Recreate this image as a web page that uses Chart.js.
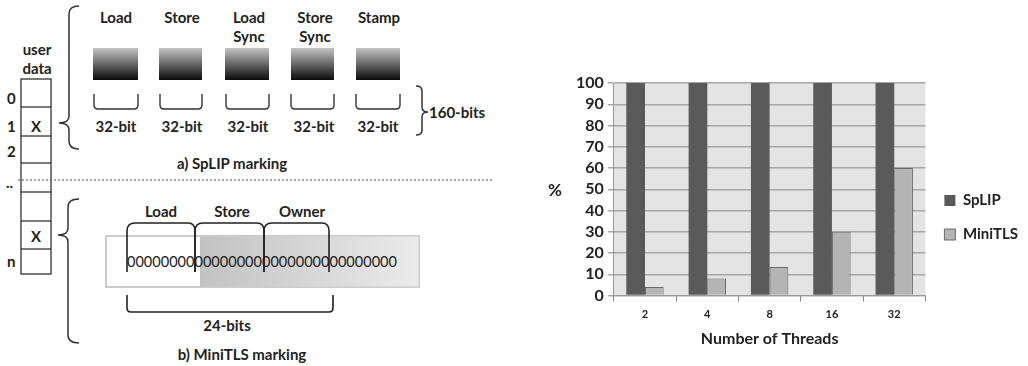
<!DOCTYPE html>
<html>
<head>
<meta charset="utf-8">
<script src="https://cdn.jsdelivr.net/npm/chart.js@4.4.0/dist/chart.umd.min.js"></script>
<style>
    body { margin: 0; background: #fff; width: 1028px; height: 366px; overflow: hidden; position: relative; font-family: Lato, "Open Sans", sans-serif; }
    #diagrama { position: absolute; left: 0; top: 0; }
    #grafico-box { position: absolute; left: 530px; top: 0; width: 498px; height: 366px; }
</style>
</head>
<body>

<!-- diagrama da esquerda (marcacoes) -->
<svg id="diagrama" width="520" height="366" font-family="Lato, sans-serif" font-weight="bold" font-size="15" fill="#222">
    <defs>
        <linearGradient id="gradCaixa" x1="0" y1="0" x2="0" y2="1">
            <stop offset="0" stop-color="#c4c4c4"/>
            <stop offset="1" stop-color="#0a0a0a"/>
        </linearGradient>
        <linearGradient id="gradFaixa" x1="0" y1="0" x2="1" y2="0">
            <stop offset="0" stop-color="#c2c2c2"/>
            <stop offset="1" stop-color="#ebebeb"/>
        </linearGradient>
    </defs>

    <!-- coluna user data -->
    <text x="37" y="55" text-anchor="middle">user</text>
    <text x="37" y="74" text-anchor="middle">data</text>
    <g stroke="#333" stroke-width="1.3" fill="none">
        <rect x="21" y="79" width="30" height="195"/>
        <line x1="21" y1="107" x2="51" y2="107"/>
        <line x1="21" y1="136" x2="51" y2="136"/>
        <line x1="21" y1="163" x2="51" y2="163"/>
        <line x1="21" y1="192" x2="51" y2="192"/>
        <line x1="21" y1="221" x2="51" y2="221"/>
        <line x1="21" y1="249" x2="51" y2="249"/>
    </g>
    <text x="7" y="104">0</text>
    <text x="7" y="132">1</text>
    <text x="7" y="157">2</text>
    <text x="6" y="188">..</text>
    <text x="7" y="267">n</text>
    <text x="36" y="132" text-anchor="middle">X</text>
    <text x="36" y="242" text-anchor="middle">X</text>

    <!-- linha tracejada -->
    <line x1="18" y1="180" x2="492" y2="180" stroke="#555" stroke-width="1" stroke-dasharray="2,2"/>

    <!-- a) SpLIP -->
    <g stroke="#333" stroke-width="1.5" fill="none">
        <path d="M79 6 Q69 6 69 14 L69 116 Q69 123 59 123 Q69 123 69 130 L69 141 Q69 149 79 149"/>
        <path d="M416 86 Q422 86 422 91 L422 107 Q422 112 428 112 Q422 112 422 117 L422 130 Q422 135 416 135"/>
    </g>
    <g text-anchor="middle">
        <text x="116" y="23">Load</text>
        <text x="182" y="23">Store</text>
        <text x="249" y="23">Load</text>
        <text x="249" y="42">Sync</text>
        <text x="315" y="23">Store</text>
        <text x="315" y="42">Sync</text>
        <text x="379" y="23">Stamp</text>
    </g>
    <g fill="url(#gradCaixa)">
        <rect x="93" y="48" width="45" height="32"/>
        <rect x="159" y="48" width="43" height="32"/>
        <rect x="225" y="48" width="44" height="32"/>
        <rect x="291" y="48" width="43" height="32"/>
        <rect x="356" y="48" width="44" height="32"/>
    </g>
    <g stroke="#333" stroke-width="1.4" fill="none">
        <path d="M94 94 L94 105 Q94 109 98 109 L134 109 Q138 109 138 105 L138 94"/>
        <path d="M160 94 L160 105 Q160 109 164 109 L198 109 Q202 109 202 105 L202 94"/>
        <path d="M226 94 L226 105 Q226 109 230 109 L265 109 Q269 109 269 105 L269 94"/>
        <path d="M291 94 L291 105 Q291 109 295 109 L330 109 Q334 109 334 105 L334 94"/>
        <path d="M356 94 L356 105 Q356 109 360 109 L396 109 Q400 109 400 105 L400 94"/>
    </g>
    <g text-anchor="middle">
        <text x="116" y="132">32-bit</text>
        <text x="182" y="132">32-bit</text>
        <text x="248" y="132">32-bit</text>
        <text x="314" y="132">32-bit</text>
        <text x="378" y="132">32-bit</text>
    </g>
    <text x="429" y="118">160-bits</text>
    <text x="232" y="169" text-anchor="middle">a) SpLIP marking</text>

    <!-- b) MiniTLS -->
    <path d="M79 199 Q68 199 68 207 L68 228 Q68 235 58 235 Q68 235 68 242 L68 335 Q68 343 79 343" stroke="#333" stroke-width="1.5" fill="none"/>
    <rect x="106" y="236" width="313" height="51" fill="#fff" stroke="#999" stroke-width="1"/>
    <rect x="200" y="236.5" width="218.5" height="50" fill="url(#gradFaixa)"/>
    <text x="127" y="267" textLength="270" lengthAdjust="spacingAndGlyphs" font-weight="normal" font-size="15">00000000000000000000000000000000</text>
    <g stroke="#222" stroke-width="1.6" fill="none">
        <path d="M127 272 L127 231 Q127 223 135 223 L188 223 Q195 223 195 231 L195 272"/>
        <path d="M195 272 L195 231 Q195 223 203 223 L257 223 Q264 223 264 231 L264 272"/>
        <path d="M264 272 L264 231 Q264 223 272 223 L322 223 Q329 223 329 231 L329 272"/>
        <path d="M127 295 L127 308 Q127 312 131 312 L329 312 Q333 312 333 308 L333 295"/>
    </g>
    <g text-anchor="middle">
        <text x="161" y="217">Load</text>
        <text x="232" y="217">Store</text>
        <text x="302" y="217">Owner</text>
        <text x="227" y="331">24-bits</text>
        <text x="242" y="360">b) MiniTLS marking</text>
    </g>
</svg>

<div id="grafico-box"><canvas id="myChartCanvas1"></canvas></div>

<script>
// dados do grafico
const threads = ["2", "4", "8", "16", "32"];
const dadosSplip = [100, 100, 100, 100, 100];
const dadosMinitls = [4, 8, 13.5, 30, 60];
const ticksY = [0, 10, 20, 30, 40, 50, 60, 70, 80, 90, 100];
const tituloY = "%";

// fundo cinza da area do grafico + titulo "%" na horizontal
const fundoArea = {
    id: "fundoArea",
    beforeDraw(chart) {
        const { ctx, chartArea } = chart;
        ctx.save();
        ctx.fillStyle = "#e4e4e4";
        ctx.fillRect(chartArea.left, chartArea.top, chartArea.right - chartArea.left, chartArea.bottom - chartArea.top);
        ctx.restore();
    },
    afterDraw(chart) {
        const { ctx, chartArea } = chart;
        ctx.save();
        ctx.fillStyle = "#222";
        ctx.font = "bold 17px Lato";
        ctx.textAlign = "center";
        ctx.textBaseline = "middle";
        ctx.fillText(tituloY, 25, (chartArea.top + chartArea.bottom) / 2 + 1);
        ctx.restore();
    }
};

const dados = {
    labels: threads,
    datasets: [
        {
            label: "SpLIP",
            data: dadosSplip,
            backgroundColor: "#5a5a5a",
            borderColor: "#505050",
            borderWidth: 0
        },
        {
            label: "MiniTLS",
            data: dadosMinitls,
            backgroundColor: "#b4b4b4",
            borderColor: "#6a6a6a",
            borderWidth: 1
        }
    ]
};

const config = {
    type: "bar",
    data: dados,
    plugins: [fundoArea],
    options: {
        responsive: true,
        maintainAspectRatio: false,
        animation: false,
        layout: { padding: { top: 83, bottom: 14, left: 42, right: 0 } },
        datasets: {
            bar: { categoryPercentage: 0.6, barPercentage: 1.0 }
        },
        plugins: {
            legend: {
                position: "right",
                labels: {
                    boxWidth: 11,
                    boxHeight: 11,
                    padding: 19,
                    color: "#222",
                    font: { family: "Lato", weight: "bold", size: 15 }
                }
            },
            tooltip: { enabled: false }
        },
        scales: {
            x: {
                grid: { drawOnChartArea: false, color: "#888", tickLength: 6 },
                border: { color: "#999" },
                ticks: { color: "#222", padding: 6, font: { family: "Lato", weight: "bold", size: 11 } },
                title: { display: true, text: "Number of Threads", color: "#222", padding: { top: 2 }, font: { family: "Lato", weight: "bold", size: 16 } }
            },
            y: {
                min: 0,
                max: 100,
                afterBuildTicks(axis) { axis.ticks = ticksY.map(v => ({ value: v })); },
                grid: { color: "#a6a6a6", lineWidth: 1.5, tickLength: 6 },
                border: { color: "#999" },
                ticks: { autoSkip: false, color: "#222", padding: 4, font: { family: "Lato", weight: "bold", size: 16 } },
                title: { display: false }
            }
        }
    }
};

let myChart = new Chart(document.getElementById("myChartCanvas1"), config);
</script>
</body>
</html>
